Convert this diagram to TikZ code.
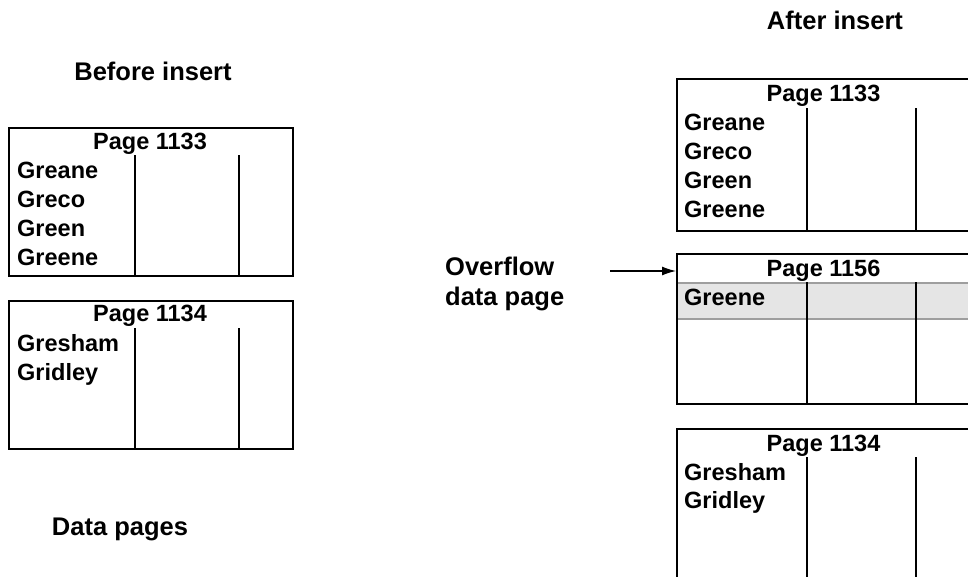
\documentclass[tikz,border=0pt]{standalone}
\usepackage{fontspec}
\setmainfont{Liberation Sans}
\usepackage{tikz}
\usetikzlibrary{shapes, arrows.meta, positioning}
\tikzstyle{page} = [ rectangle, draw, line width=2pt, anchor=north west, inner sep=0pt, minimum width=284pt, minimum height=148pt ]
\tikzstyle{wide page} = [ page, minimum width=330pt, minimum height=152pt ]
\tikzstyle{moved row} = [ rectangle, draw=black!38, fill=black!10, line width=1.5pt, anchor=north west, inner sep=0pt, minimum width=330pt, minimum height=36pt ]
\tikzstyle{pagetitle} = [ anchor=base, inner sep=0pt, font=\bfseries\fontsize{23.5}{28}\selectfont ]
\tikzstyle{entry} = [ anchor=base west, inner sep=0pt, font=\bfseries\fontsize{23.5}{28}\selectfont ]
\tikzstyle{caption} = [ anchor=base, inner sep=0pt, align=left, font=\bfseries\fontsize{25.5}{30}\selectfont ]
\tikzstyle{divider} = [ draw, line width=2pt ]
\tikzstyle{line} = [ draw, line width=1.3pt, -{Latex[length=14pt, width=9pt]} ]

\begin{document}
\begin{tikzpicture}[x=1pt, y=-1pt]
\useasboundingbox (0,0) rectangle (968,576);
\clip (0,0) rectangle (968,576);

% Before insert
\node [caption] (before) at (153,80) {Before insert};
\node [page] (beforeA) at (8,127) {};
\node [pagetitle] (beforeAtitle) at (150,149.5) {Page 1133};
\node [entry] (beforeA1) at (17,178.5) {Greane};
\node [entry] (beforeA2) at (17,207.5) {Greco};
\node [entry] (beforeA3) at (17,236.5) {Green};
\node [entry] (beforeA4) at (17,265.5) {Greene};
\path [divider] (135,155) -- (beforeA.south west -| 135,0);
\path [divider] (239,155) -- (beforeA.south west -| 239,0);

\node [page] (beforeB) at (8,300) {};
\node [pagetitle] (beforeBtitle) at (150,321.5) {Page 1134};
\node [entry] (beforeB1) at (17,351) {Gresham};
\node [entry] (beforeB2) at (17,380) {Gridley};
\path [divider] (135,328) -- (beforeB.south west -| 135,0);
\path [divider] (239,328) -- (beforeB.south west -| 239,0);

\node [caption] (datapages) at (120,535) {Data pages};

% After insert
\node [caption] (after) at (835,29) {After insert};
\node [wide page] (afterA) at (676,78) {};
\node [pagetitle] (afterAtitle) at (823.5,101.5) {Page 1133};
\node [entry] (afterA1) at (684,130) {Greane};
\node [entry] (afterA2) at (684,159) {Greco};
\node [entry] (afterA3) at (684,188.5) {Green};
\node [entry] (afterA4) at (684,217) {Greene};
\path [divider] (807,108) -- (afterA.south west -| 807,0);
\path [divider] (916,108) -- (afterA.south west -| 916,0);

\node [moved row] (movedrow) at (676,282) {};
\node [wide page, minimum height=150pt] (afterC) at (676,253) {};
\node [pagetitle] (afterCtitle) at (823.5,276.5) {Page 1156};
\node [entry] (afterC1) at (684,305) {Greene};
\path [divider] (807,282) -- (afterC.south west -| 807,0);
\path [divider] (916,282) -- (afterC.south west -| 916,0);

\node [wide page, minimum height=170pt] (afterB) at (676,428) {};
\node [pagetitle] (afterBtitle) at (823.5,451.5) {Page 1134};
\node [entry] (afterB1) at (684,480) {Gresham};
\node [entry] (afterB2) at (684,508.5) {Gridley};
\path [divider] (807,457) -- (807,600);
\path [divider] (916,457) -- (916,600);

% Overflow page pointer
\node [caption, anchor=base west] (overflow) at (445,275) {Overflow};
\node [caption, anchor=base west] (overflowpage) at (445,305.5) {data page};
\coordinate (pointer) at (610,271);
\path [line] (pointer) -- (afterC.west |- pointer);
\end{tikzpicture}
\end{document}
